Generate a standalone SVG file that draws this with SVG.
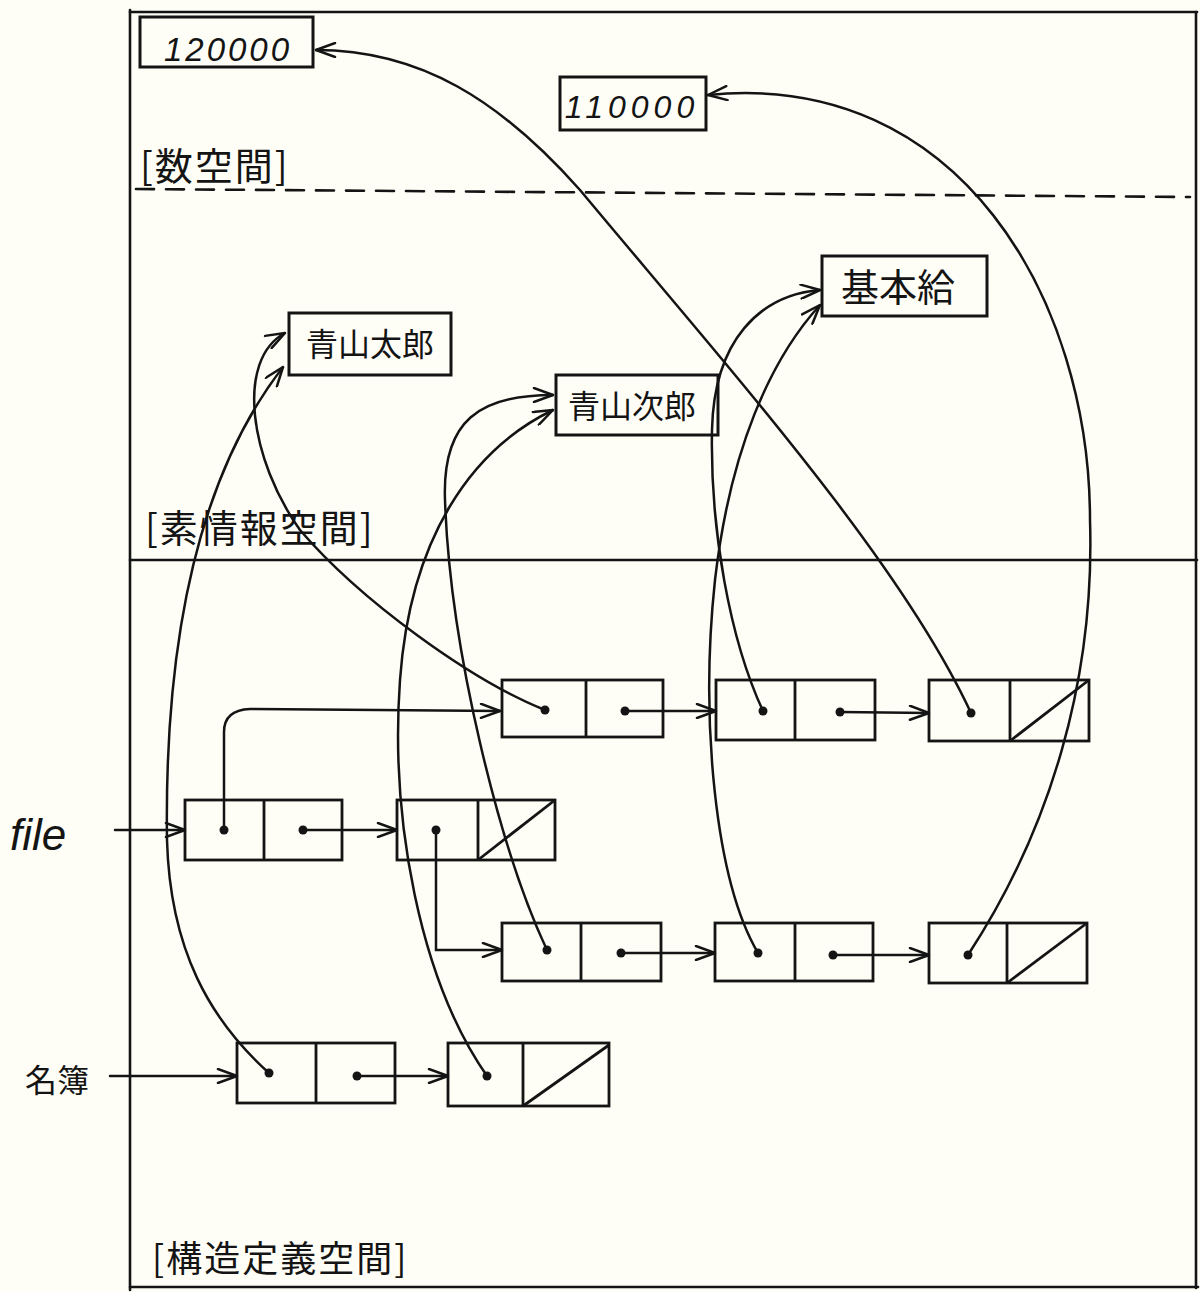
<svg xmlns="http://www.w3.org/2000/svg" width="1200" height="1292" viewBox="0 0 1200 1292">
<defs>
<style>
.ln{fill:none;stroke:#141414;stroke-width:2.6;stroke-linecap:round;stroke-linejoin:round}
.box{fill:none;stroke:#141414;stroke-width:3}
.cell{fill:none;stroke:#141414;stroke-width:2.8}
.dot{fill:#141414}
.cjk{font-family:"Noto Sans CJK JP","Noto Sans CJK SC",sans-serif;fill:#141414}
.num{font-family:"Liberation Sans",sans-serif;font-style:italic;fill:#141414}
.ptr{fill:none;stroke:#141414;stroke-width:2.5;stroke-linecap:round;marker-end:url(#arr)}
</style>
<marker id="arr" viewBox="0 0 22 16" refX="21" refY="8" markerWidth="22" markerHeight="16" markerUnits="userSpaceOnUse" orient="auto">
<path d="M2,1 L21,8 L2,15" fill="none" stroke="#141414" stroke-width="2.5" stroke-linecap="round" stroke-linejoin="round"/>
</marker>
</defs>
<rect width="1200" height="1292" fill="#fefef6"/>
<g id="frame">
<line class="ln" x1="130" y1="10" x2="130" y2="1290"/>
<line class="ln" x1="130" y1="12" x2="1197" y2="12"/>
<line class="ln" x1="1196" y1="12" x2="1196" y2="1288"/>
<line class="ln" x1="130" y1="1287" x2="1198" y2="1287"/>
<line class="ln" x1="136" y1="189" x2="1190" y2="197" stroke-dasharray="18 12"/>
<line class="ln" x1="130" y1="560" x2="1197" y2="560"/>
</g>
<g id="labels">
<text class="cjk" x="140" y="180" font-size="38" letter-spacing="2">[数空間]</text>
<text class="cjk" x="145" y="542" font-size="38" letter-spacing="2">[素情報空間]</text>
<text class="cjk" x="152" y="1272" font-size="36" letter-spacing="2">[構造定義空間]</text>
<text class="num" x="10" y="850" font-size="44">file</text>
<text class="cjk" x="25" y="1092" font-size="32">名簿</text>
</g>
<g id="n120000"><rect class="box" x="140" y="17" width="173" height="50"/><text class="num" x="228" y="61" font-size="33" text-anchor="middle" letter-spacing="3">120000</text></g>
<g id="n110000"><rect class="box" x="560" y="77" width="146" height="53"/><text class="num" x="632" y="118" font-size="32" text-anchor="middle" letter-spacing="5">110000</text></g>
<g id="aoyama-taro"><rect class="box" x="289" y="313" width="162" height="62"/><text class="cjk" x="370" y="356" font-size="32" text-anchor="middle">青山太郎</text></g>
<g id="aoyama-jiro"><rect class="box" x="556" y="375" width="162" height="60"/><text class="cjk" x="632" y="418" font-size="32" text-anchor="middle">青山次郎</text></g>
<g id="kihonkyu"><rect class="box" x="822" y="256" width="165" height="60"/><text class="cjk" x="898" y="301" font-size="38" text-anchor="middle">基本給</text></g>
<g id="cellA"><rect class="cell" x="185" y="800" width="157" height="60"/><line class="cell" x1="264" y1="800" x2="264" y2="860"/><circle class="dot" cx="224" cy="830" r="4.5"/><circle class="dot" cx="303" cy="830" r="4.5"/></g>
<g id="cellB"><rect class="cell" x="397" y="800" width="158" height="60"/><line class="cell" x1="478" y1="800" x2="478" y2="860"/><line class="cell" x1="478" y1="860" x2="555" y2="800"/><circle class="dot" cx="436" cy="830" r="4.5"/></g>
<g id="cellC1"><rect class="cell" x="502" y="680" width="161" height="57"/><line class="cell" x1="586" y1="680" x2="586" y2="737"/><circle class="dot" cx="545" cy="710" r="4.5"/><circle class="dot" cx="625" cy="711" r="4.5"/></g>
<g id="cellC2"><rect class="cell" x="716" y="680" width="159" height="60"/><line class="cell" x1="795" y1="680" x2="795" y2="740"/><circle class="dot" cx="763" cy="711" r="4.5"/><circle class="dot" cx="840" cy="712" r="4.5"/></g>
<g id="cellC3"><rect class="cell" x="929" y="680" width="160" height="61"/><line class="cell" x1="1010" y1="680" x2="1010" y2="741"/><line class="cell" x1="1010" y1="741" x2="1089" y2="680"/><circle class="dot" cx="971" cy="713" r="4.5"/></g>
<g id="cellD1"><rect class="cell" x="502" y="923" width="159" height="58"/><line class="cell" x1="581" y1="923" x2="581" y2="981"/><circle class="dot" cx="547" cy="950" r="4.5"/><circle class="dot" cx="621" cy="953" r="4.5"/></g>
<g id="cellD2"><rect class="cell" x="715" y="923" width="158" height="58"/><line class="cell" x1="795" y1="923" x2="795" y2="981"/><circle class="dot" cx="758" cy="953" r="4.5"/><circle class="dot" cx="833" cy="955" r="4.5"/></g>
<g id="cellD3"><rect class="cell" x="929" y="923" width="158" height="60"/><line class="cell" x1="1007" y1="923" x2="1007" y2="983"/><line class="cell" x1="1007" y1="983" x2="1087" y2="923"/><circle class="dot" cx="968" cy="955" r="4.5"/></g>
<g id="cellE1"><rect class="cell" x="237" y="1043" width="158" height="60"/><line class="cell" x1="316" y1="1043" x2="316" y2="1103"/><circle class="dot" cx="269" cy="1073" r="4.5"/><circle class="dot" cx="357" cy="1076" r="4.5"/></g>
<g id="cellE2"><rect class="cell" x="448" y="1043" width="161" height="63"/><line class="cell" x1="523" y1="1043" x2="523" y2="1106"/><line class="cell" x1="523" y1="1106" x2="609" y2="1045"/><circle class="dot" cx="487" cy="1076" r="4.5"/></g>
<g id="connectors">
<path class="ptr" d="M115,830 L185,830"/>
<path class="ptr" d="M110,1076 L237,1076"/>
<path class="ptr" d="M303,830 L397,830"/>
<path class="ptr" d="M357,1076 L448,1076"/>
<path class="ptr" d="M625,711 L716,711"/>
<path class="ptr" d="M840,712 L929,713"/>
<path class="ptr" d="M621,953 L715,953"/>
<path class="ptr" d="M833,955 L929,955"/>
<path class="ptr" d="M224,830 L224,732 Q224,710 250,709 L500,711"/>
<path class="ptr" d="M436,830 L436,950 L502,950"/>
<path class="ptr" d="M545,710 C470,680 360,600 300,530 C250,460 235,360 285,333"/>
<path class="ptr" d="M269,1073 C210,1020 170,950 167,840 C165,700 180,500 283,367"/>
<path class="ptr" d="M547,950 C500,850 450,650 445,500 C442,420 480,395 553,395"/>
<path class="ptr" d="M487,1076 C420,980 390,820 400,680 C410,540 470,450 553,410"/>
<path class="ptr" d="M763,711 C730,640 710,530 712,430 C714,340 760,295 820,290"/>
<path class="ptr" d="M758,953 C715,880 700,720 715,580 C730,450 770,360 820,305"/>
<path class="ptr" d="M971,713 C900,560 730,370 580,190 C500,100 420,50 316,50"/>
<path class="ptr" d="M968,955 C1050,830 1095,680 1090,520 C1090,300 960,70 708,95"/>
</g>
</svg>
